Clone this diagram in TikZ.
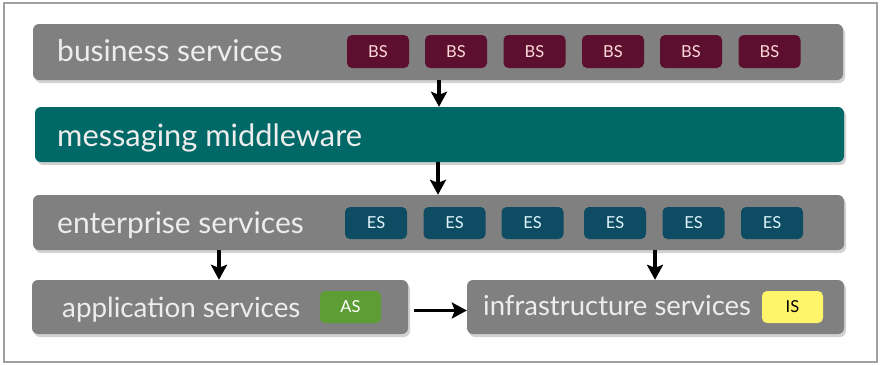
\documentclass[tikz,border=0pt]{standalone}
\usepackage{fontspec}
\setmainfont{Lato}
\usetikzlibrary{arrows.meta,shadows}
\definecolor{bargray}{HTML}{808080}
\definecolor{mmteal}{HTML}{006866}
\definecolor{bsred}{HTML}{5C0F2E}
\definecolor{esblue}{HTML}{0D4C63}
\definecolor{asgreen}{HTML}{5E9C35}
\definecolor{isyellow}{HTML}{FFF56B}
\definecolor{framegray}{HTML}{A0A0A0}
\tikzset{
  bar/.style={rectangle, rounded corners=6pt, fill=bargray, inner sep=0pt,
    drop shadow={opacity=0.35, shadow xshift=2pt, shadow yshift=-3pt}},
  barlabel/.style={anchor=base west, inner sep=0pt, text=white!93!black},
  chip/.style={rectangle, rounded corners=5pt, inner sep=0pt, minimum width=62pt,
    minimum height=32pt, font=\fontsize{16.5}{16.5}\selectfont,
    drop shadow={opacity=0.45, shadow xshift=2pt, shadow yshift=-2pt}},
  bschip/.style={chip, fill=bsred, text=white!85!red},
  eschip/.style={chip, fill=esblue, text=white!88!cyan},
  arr/.style={-{Stealth[length=15pt,width=16pt,inset=3pt]}, line width=3.2pt, black},
}
\begin{document}
\begin{tikzpicture}[x=1pt,y=-1pt]
\useasboundingbox (0,0) rectangle (881,365);
\draw[framegray, line width=1.2pt, fill=white] (4,3) rectangle (877,362);

% bars
\node[bar, minimum width=810pt, minimum height=56pt] (bs) at (438,52) {};
\node[bar, fill=mmteal, minimum width=809pt, minimum height=55pt] (mm) at (439.5,134.5) {};
\node[bar, minimum width=811pt, minimum height=55pt] (es) at (438.5,222.5) {};
\node[bar, minimum width=376pt, minimum height=54pt] (as) at (220,307) {};
\node[bar, minimum width=377pt, minimum height=54pt] (is) at (655.5,307) {};

% labels
\node[barlabel, font=\fontsize{30}{30}\selectfont] (bsl) at (57,61.5) {business services};
\node[barlabel, font=\fontsize{30.8}{30.8}\selectfont] (mml) at (57,146) {messaging middleware};
\node[barlabel, font=\fontsize{30}{30}\selectfont] (esl) at (57,233) {enterprise services};
\node[barlabel, font=\fontsize{27.8}{27.8}\selectfont] (asl) at (62,317) {application services};
\node[barlabel, font=\fontsize{27.5}{27.5}\selectfont] (isl) at (483,315) {infrastructure services};

% BS chips
\node[bschip, minimum height=33pt] (bs1) at (378,51.5) {BS};
\node[bschip, minimum height=33pt] (bs2) at (456,51.5) {BS};
\node[bschip, minimum height=33pt] (bs3) at (534.5,51.5) {BS};
\node[bschip, minimum height=33pt] (bs4) at (613,51.5) {BS};
\node[bschip, minimum height=33pt] (bs5) at (691,51.5) {BS};
\node[bschip, minimum height=33pt] (bs6) at (769.5,51.5) {BS};

% ES chips
\node[eschip] (es1) at (376,223) {ES};
\node[eschip] (es2) at (454.5,223) {ES};
\node[eschip] (es3) at (532.5,223) {ES};
\node[eschip] (es4) at (615,223) {ES};
\node[eschip] (es5) at (693.5,223) {ES};
\node[eschip] (es6) at (772,223) {ES};

% AS / IS chips
\node[chip, fill=asgreen, text=white, minimum width=61pt] (as1) at (350.5,307) {AS};
\node[chip, fill=isyellow, text=black, minimum width=61pt] (is1) at (792.5,307) {IS};

% arrows
\draw[arr] (439,0 |- bs.south) -- (439,0 |- mm.north);
\draw[arr] (438,0 |- mm.south) -- (438,0 |- es.north);
\draw[arr] (219,0 |- es.south) -- (219,0 |- as.north);
\draw[arr] (655,0 |- es.south) -- (655,0 |- is.north);
\draw[arr, shorten <=6pt] (as.east |- 0,310.5) -- (is.west |- 0,310.5);
\end{tikzpicture}
\end{document}
